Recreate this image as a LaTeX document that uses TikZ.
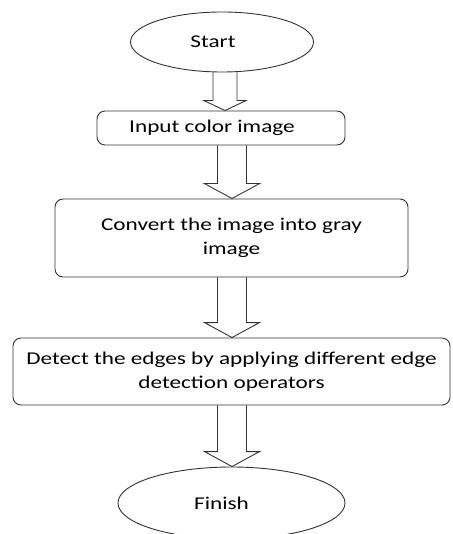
\documentclass[tikz,border=0pt]{standalone}
\usepackage{fontspec}
\setmainfont{Carlito}[FakeStretch=1.29]
\usetikzlibrary{shapes.geometric,calc}

\tikzset{
  flowline/.style={draw=black!80, line width=0.9pt},
  terminal/.style={flowline, ellipse, inner sep=0pt},
  process/.style={flowline, rectangle, rounded corners=8pt, inner sep=0pt, align=center},
  nudge/.style={execute at begin node={\hspace*{#1}}},
}

% hollow block arrow: column x, from, to, half shaft, half head, head length
\newcommand{\blockarrow}[6]{%
  \path (#1,0 |- #2.south) coordinate (ta) (#1,0 |- #3.north) coordinate (tb);
  \draw[flowline, line join=miter] ($(ta)+(-#4,0)$) -- ($(tb)+(-#4,-#6)$) -- ($(tb)+(-#5,-#6)$)
    -- (tb) -- ($(tb)+(#5,-#6)$) -- ($(tb)+(#4,-#6)$) -- ($(ta)+(#4,0)$);
}

\begin{document}
\begin{tikzpicture}[x=1pt, y=-1pt, font=\fontsize{18}{24}\selectfont]
    \useasboundingbox (0,0) rectangle (452,534);

    \node[terminal, minimum width=183pt, minimum height=60pt, nudge=-18pt] (start) at (222,42) {Start};
    \node[process, minimum width=248pt, minimum height=34pt, nudge=-18pt] (input) at (221,128) {Input color image};
    \node[process, minimum width=353pt, minimum height=78pt] (gray) at (231.5,238) {Convert the image into gray\\image};
    \node[process, minimum width=437pt, minimum height=67pt] (detect) at (231.5,371.5) {Detect the edges by applying different edge\\detection operators};
    \node[terminal, minimum width=227pt, minimum height=72pt, nudge=-20pt] (finish) at (231.5,503) {Finish};

    \blockarrow{225}{start}{input}{12}{21}{10}
    \blockarrow{232}{input}{gray}{14.5}{27.5}{15}
    \blockarrow{232}{gray}{detect}{14.5}{27.5}{15}
    \blockarrow{232}{detect}{finish}{14.5}{27.5}{15}

\end{tikzpicture}
\end{document}
